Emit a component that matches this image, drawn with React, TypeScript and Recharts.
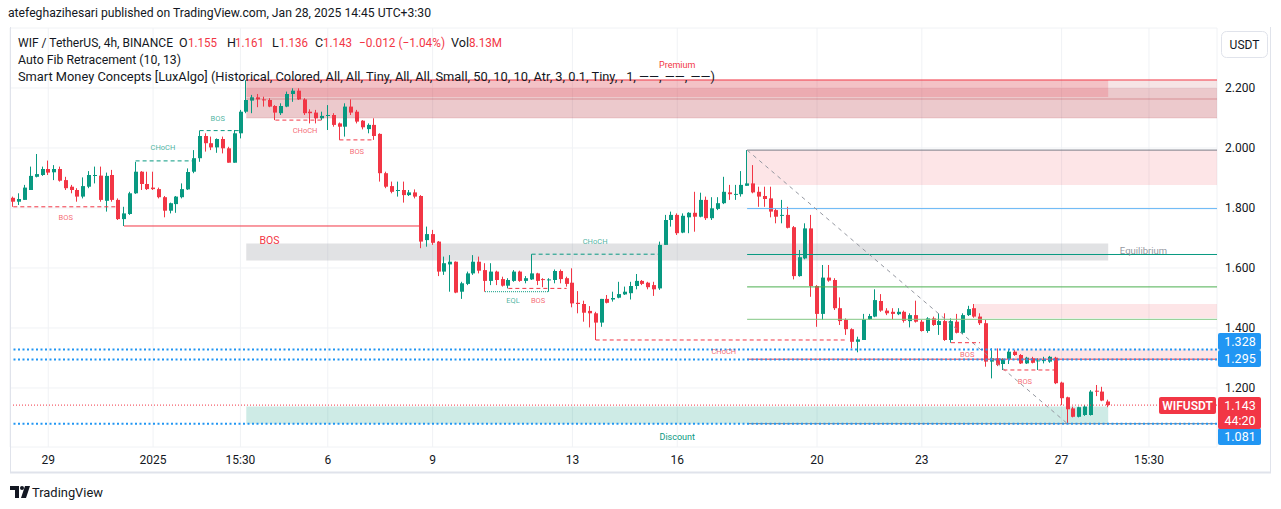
import React from 'react';
import {
  ComposedChart,
  Bar,
  XAxis,
  YAxis,
  CartesianGrid,
  ReferenceArea,
  ReferenceLine,
  ReferenceDot,
} from 'recharts';

const GREEN = '#089981';
const RED = '#f23645';
const BLUE = '#2196f3';
const TEXT = '#131722';
const FONT = 'Roboto, "Noto Sans", "DejaVu Sans", sans-serif';

// ---------- DATA (4h candles, WIF/USDT) ----------
const OPEN = [
  1.834, 1.821, 1.827, 1.86, 1.904, 1.91, 1.93, 1.919, 1.93, 1.893,
  1.871, 1.86, 1.838, 1.871, 1.908, 1.908, 1.824, 1.91, 1.827, 1.763,
  1.78, 1.849, 1.921, 1.88, 1.868, 1.863, 1.836, 1.791, 1.813, 1.836,
  1.862, 1.921, 1.966, 2.04, 2.016, 2.002, 2.03, 1.999, 1.951, 2.049,
  2.121, 2.158, 2.169, 2.162, 2.16, 2.14, 2.116, 2.138, 2.18, 2.191,
  2.162, 2.121, 2.118, 2.099, 2.108, 2.11, 2.082, 2.071, 2.138, 2.121,
  2.091, 2.063, 2.077, 2.047, 1.916, 1.873, 1.858, 1.86, 1.843, 1.852,
  1.84, 1.693, 1.713, 1.688, 1.588, 1.612, 1.621, 1.521, 1.547, 1.582,
  1.621, 1.593, 1.557, 1.588, 1.563, 1.541, 1.557, 1.588, 1.557, 1.562,
  1.582, 1.563, 1.559, 1.56, 1.59, 1.566, 1.551, 1.484, 1.48, 1.457,
  1.449, 1.418, 1.497, 1.495, 1.501, 1.512, 1.516, 1.54, 1.557, 1.551,
  1.543, 1.532, 1.677, 1.76, 1.777, 1.718, 1.769, 1.784, 1.771, 1.827,
  1.766, 1.797, 1.816, 1.852, 1.846, 1.846, 1.874, 1.882, 1.854, 1.84,
  1.832, 1.793, 1.775, 1.777, 1.736, 1.573, 1.632, 1.732, 1.54, 1.447,
  1.568, 1.56, 1.466, 1.427, 1.396, 1.354, 1.36, 1.429, 1.438, 1.49,
  1.458, 1.454, 1.446, 1.454, 1.423, 1.443, 1.421, 1.39, 1.432, 1.41,
  1.423, 1.36, 1.421, 1.384, 1.443, 1.466, 1.438, 1.416, 1.288, 1.299,
  1.28, 1.297, 1.321, 1.31, 1.282, 1.299, 1.29, 1.29, 1.288, 1.301,
  1.218, 1.169, 1.132, 1.104, 1.11, 1.11, 1.191, 1.188, 1.155,
];
const HIGH = [
  1.838, 1.849, 1.877, 1.938, 1.98, 1.938, 1.958, 1.943, 1.938, 1.904,
  1.877, 1.866, 1.902, 1.923, 1.938, 1.938, 1.918, 1.927, 1.832, 1.804,
  1.854, 1.954, 1.923, 1.921, 1.921, 1.868, 1.84, 1.818, 1.84, 1.882,
  1.932, 1.993, 2.058, 2.049, 2.038, 2.032, 2.038, 2.004, 2.06, 2.127,
  2.226, 2.177, 2.18, 2.171, 2.166, 2.143, 2.149, 2.188, 2.199, 2.199,
  2.166, 2.129, 2.127, 2.121, 2.143, 2.116, 2.085, 2.149, 2.162, 2.127,
  2.093, 2.082, 2.099, 2.049, 1.921, 1.888, 1.888, 1.888, 1.86, 1.862,
  1.843, 1.738, 1.727, 1.69, 1.638, 1.643, 1.622, 1.554, 1.588, 1.643,
  1.638, 1.616, 1.616, 1.591, 1.571, 1.566, 1.593, 1.591, 1.573, 1.646,
  1.584, 1.566, 1.566, 1.595, 1.595, 1.571, 1.599, 1.523, 1.491, 1.473,
  1.454, 1.497, 1.51, 1.521, 1.554, 1.538, 1.554, 1.58, 1.56, 1.554,
  1.554, 1.688, 1.777, 1.788, 1.782, 1.782, 1.786, 1.854, 1.851, 1.838,
  1.836, 1.836, 1.904, 1.877, 1.877, 1.923, 1.993, 1.943, 1.871, 1.871,
  1.871, 1.799, 1.827, 1.804, 1.74, 1.66, 1.749, 1.777, 1.543, 1.61,
  1.61, 1.566, 1.502, 1.432, 1.399, 1.371, 1.447, 1.447, 1.529, 1.513,
  1.466, 1.466, 1.466, 1.458, 1.449, 1.491, 1.427, 1.436, 1.438, 1.449,
  1.449, 1.432, 1.447, 1.449, 1.474, 1.48, 1.449, 1.427, 1.332, 1.332,
  1.299, 1.327, 1.327, 1.313, 1.304, 1.304, 1.299, 1.304, 1.307, 1.304,
  1.221, 1.171, 1.138, 1.138, 1.143, 1.193, 1.21, 1.204, 1.161,
];
const LOW = [
  1.804, 1.81, 1.827, 1.86, 1.902, 1.907, 1.91, 1.893, 1.888, 1.86,
  1.849, 1.821, 1.832, 1.866, 1.882, 1.821, 1.788, 1.821, 1.76, 1.74,
  1.777, 1.847, 1.86, 1.86, 1.86, 1.832, 1.769, 1.782, 1.784, 1.832,
  1.86, 1.916, 1.954, 1.988, 1.993, 1.984, 1.982, 1.951, 1.951, 2.032,
  2.116, 2.116, 2.136, 2.138, 2.136, 2.093, 2.11, 2.136, 2.154, 2.16,
  2.11, 2.082, 2.082, 2.093, 2.06, 2.071, 2.027, 2.038, 2.11, 2.082,
  2.062, 2.049, 2.027, 1.888, 1.866, 1.849, 1.838, 1.818, 1.84, 1.832,
  1.666, 1.671, 1.677, 1.573, 1.577, 1.521, 1.516, 1.497, 1.543, 1.577,
  1.582, 1.521, 1.543, 1.543, 1.538, 1.532, 1.554, 1.554, 1.549, 1.56,
  1.543, 1.536, 1.521, 1.549, 1.549, 1.538, 1.469, 1.449, 1.421, 1.402,
  1.36, 1.404, 1.482, 1.488, 1.499, 1.51, 1.495, 1.529, 1.543, 1.529,
  1.507, 1.527, 1.677, 1.738, 1.71, 1.716, 1.716, 1.721, 1.769, 1.76,
  1.76, 1.793, 1.813, 1.827, 1.827, 1.838, 1.874, 1.849, 1.804, 1.804,
  1.769, 1.749, 1.749, 1.732, 1.562, 1.571, 1.629, 1.504, 1.404, 1.427,
  1.554, 1.46, 1.41, 1.377, 1.332, 1.319, 1.36, 1.427, 1.436, 1.454,
  1.443, 1.429, 1.443, 1.418, 1.402, 1.418, 1.388, 1.384, 1.407, 1.377,
  1.357, 1.351, 1.382, 1.38, 1.44, 1.434, 1.41, 1.271, 1.232, 1.273,
  1.26, 1.28, 1.307, 1.28, 1.28, 1.282, 1.26, 1.282, 1.284, 1.213,
  1.143, 1.081, 1.102, 1.102, 1.107, 1.108, 1.173, 1.156, 1.136,
];
const CLOSE = [
  1.821, 1.83, 1.868, 1.907, 1.913, 1.93, 1.918, 1.93, 1.891, 1.866,
  1.86, 1.838, 1.873, 1.91, 1.91, 1.827, 1.907, 1.827, 1.763, 1.782,
  1.849, 1.921, 1.88, 1.863, 1.863, 1.836, 1.791, 1.816, 1.838, 1.863,
  1.92, 1.966, 2.04, 2.016, 2.002, 2.03, 1.999, 1.951, 2.049, 2.121,
  2.16, 2.169, 2.162, 2.16, 2.138, 2.118, 2.14, 2.18, 2.191, 2.162,
  2.116, 2.116, 2.099, 2.107, 2.11, 2.077, 2.071, 2.138, 2.118, 2.088,
  2.069, 2.077, 2.04, 1.916, 1.871, 1.854, 1.86, 1.843, 1.852, 1.838,
  1.688, 1.713, 1.684, 1.588, 1.616, 1.621, 1.518, 1.549, 1.582, 1.621,
  1.591, 1.557, 1.588, 1.56, 1.541, 1.56, 1.588, 1.557, 1.566, 1.582,
  1.557, 1.56, 1.562, 1.59, 1.563, 1.547, 1.482, 1.48, 1.451, 1.449,
  1.418, 1.497, 1.484, 1.5, 1.513, 1.521, 1.54, 1.557, 1.547, 1.536,
  1.529, 1.677, 1.76, 1.777, 1.716, 1.774, 1.784, 1.771, 1.827, 1.766,
  1.799, 1.816, 1.854, 1.846, 1.847, 1.877, 1.882, 1.852, 1.838, 1.83,
  1.788, 1.771, 1.777, 1.734, 1.573, 1.636, 1.732, 1.54, 1.447, 1.568,
  1.558, 1.466, 1.423, 1.396, 1.354, 1.362, 1.429, 1.44, 1.493, 1.458,
  1.449, 1.447, 1.454, 1.424, 1.443, 1.421, 1.39, 1.432, 1.41, 1.423,
  1.36, 1.423, 1.384, 1.443, 1.463, 1.438, 1.416, 1.288, 1.299, 1.277,
  1.297, 1.321, 1.31, 1.282, 1.301, 1.284, 1.292, 1.293, 1.304, 1.216,
  1.166, 1.129, 1.104, 1.136, 1.138, 1.188, 1.188, 1.158, 1.143,
];

// time axis (candle index -> label)
const TICK_IDX = [6, 24, 39, 54, 72, 96, 114, 138, 156, 180, 195];
const TICK_LABELS = ['29', '2025', '15:30', '6', '9', '13', '16', '20', '23', '27', '15:30'];
const PRICE_TICKS = [1.2, 1.4, 1.6, 1.8, 2.0, 2.2];

// Auto Fib retracement
const FIB_FROM = 126;
const FIB_TO_LOW = 181;
const FIB_PRICES = [1.993, 1.798, 1.645, 1.537, 1.429, 1.296, 1.081];
const FIB_COLORS = ['#787b86', '#64b5f6', '#089981', '#4caf50', '#81c784', '#f23645', '#787b86'];

// Smart Money Concepts structures: [fromIdx, toIdx, price, color, style]
const STRUCT_LINES: [number, number, number, string, string][] = [
  [0, 18, 1.804, 'red', 'dash'],
  [19, 70, 1.74, 'red', 'solid'],
  [21, 31, 1.957, 'green', 'dash'],
  [32, 39, 2.058, 'green', 'dash'],
  [45, 53, 2.093, 'red', 'dash'],
  [56, 62, 2.027, 'red', 'dash'],
  [89, 111, 1.646, 'green', 'dash'],
  [81, 92, 1.521, 'green', 'dot'],
  [85, 95, 1.532, 'red', 'dash'],
  [100, 143, 1.36, 'red', 'dash'],
  [161, 166, 1.351, 'red', 'dash'],
  [170, 179, 1.26, 'red', 'dash'],
];
// labels: [text, idx, price, color, size]
const STRUCT_LABELS: [string, number, number, string, number][] = [
  ['BOS', 9, 1.767, 'red', 7.5],
  ['BOS', 44, 1.69, 'red', 10.5],
  ['CHoCH', 25.7, 2.0, 'green', 7.5],
  ['BOS', 35.1, 2.097, 'green', 7.5],
  ['CHoCH', 50.1, 2.057, 'red', 7.5],
  ['BOS', 59, 1.987, 'red', 7.5],
  ['CHoCH', 99.9, 1.687, 'green', 7.5],
  ['EQL', 85.8, 1.49, 'green', 7.5],
  ['BOS', 90.1, 1.493, 'red', 7.5],
  ['CHoCH', 122, 1.32, 'red', 7.5],
  ['BOS', 163.8, 1.31, 'red', 7.5],
  ['BOS', 173.7, 1.223, 'red', 7.5],
];

// zones: premium / equilibrium / discount and order blocks
const ZONE_START = 40;
const LAST_IDX = 188;
const TOP_PRICE = 2.2267;
const PREMIUM_BOTTOM = 2.17;
const OB_TOP_INNER = 2.2;
const OB_BOTTOM = 2.1;
const OB_MID_LINE = 2.1633;
const EQ_RANGE = [1.625, 1.682];
const DISCOUNT_RANGE = [1.081, 1.138];
const LAST_PRICE = 1.143;

// ---------- LAYOUT CONSTANTS ----------
const XMIN = -0.567;
const XMAX = 206.68;
const YMIN = 1.00333;
const YMAX = 2.4;

const data = OPEN.map((o, i) => ({
  i,
  o,
  h: HIGH[i],
  l: LOW[i],
  c: CLOSE[i],
  range: [LOW[i], HIGH[i]],
}));

const labelByIdx: Record<number, string> = {};
TICK_IDX.forEach((v, k) => (labelByIdx[v] = TICK_LABELS[k]));

function Candle(props: any) {
  const { x, y, width, height, payload } = props;
  if (!payload || x == null || y == null) return null;
  const top = Math.min(y, y + height);
  const bottom = Math.max(y, y + height);
  const { o, h, l, c } = payload;
  const span = h - l;
  const py = (v: number) => (span > 0 ? top + ((h - v) / span) * (bottom - top) : top);
  const color = c >= o ? GREEN : RED;
  const center = x + width / 2;
  const x0 = Math.round(center - 2);
  const bTop = py(Math.max(o, c));
  const bBot = py(Math.min(o, c));
  return (
    <g>
      <line x1={x0 + 1.5} x2={x0 + 1.5} y1={top} y2={bottom} stroke={color} strokeWidth={1} />
      <rect x={x0} y={bTop} width={4} height={Math.max(1, bBot - bTop)} fill={color} />
    </g>
  );
}

const colorOf = (k: string) => (k === 'red' ? RED : GREEN);

const textShape = (txt: string, color: string, size: number, anchor: string = 'middle', opacity = 1) =>
  (p: any) => (
    <text
      x={p.cx}
      y={p.cy}
      fill={color}
      fillOpacity={opacity}
      fontSize={size}
      fontFamily={FONT}
      textAnchor={anchor as any}
      dominantBaseline="central"
    >
      {txt}
    </text>
  );

const priceTag = (lines: string[], bg: string, dy = 0) => (p: any) => {
  const h = lines.length === 1 ? 17 : 32;
  const y0 = Math.round(p.cy - 8.5 + dy);
  return (
    <g>
      <rect x={p.cx + 1} y={y0} width={43} height={h} rx={2} fill={bg} />
      {lines.map((t, k) => (
        <text
          key={k}
          x={p.cx + 23}
          y={y0 + 12.5 + k * 15}
          textAnchor="middle"
          fill="#ffffff"
          fontSize={12.5}
          fontFamily={FONT}
        >
          {t}
        </text>
      ))}
    </g>
  );
};

const symbolTag = (p: any) => {
  const y0 = Math.round(p.cy - 8.5);
  return (
    <g>
      <rect x={p.cx - 58} y={y0} width={57} height={17} rx={2} fill={RED} />
      <text x={p.cx - 29.5} y={y0 + 12.5} textAnchor="middle" fill="#fff" fontSize={12} fontWeight={600} fontFamily={FONT}>
        WIFUSDT
      </text>
    </g>
  );
};

export default function App() {
  return (
    <div
      style={{
        position: 'absolute',
        left: 0,
        top: 0,
        width: 1281,
        height: 509,
        background: '#ffffff',
        overflow: 'hidden',
        fontFamily: FONT,
      }}
    >
      <ComposedChart
        width={1281}
        height={509}
        data={data}
        margin={{ top: 28, right: 0, bottom: 36, left: 10 }}
      >
        <CartesianGrid stroke="#f0f2f5" />
        <XAxis
          dataKey="i"
          type="number"
          domain={[XMIN, XMAX]}
          ticks={TICK_IDX}
          interval={0}
          tickFormatter={(v: number) => labelByIdx[v] ?? ''}
          axisLine={false}
          tickLine={false}
          height={26}
          allowDataOverflow
          tick={{ fill: TEXT, fontSize: 12, fontFamily: FONT }}
        />
        <YAxis
          orientation="right"
          domain={[YMIN, YMAX]}
          ticks={PRICE_TICKS}
          tickFormatter={(v: number) => v.toFixed(3)}
          axisLine={false}
          tickLine={false}
          width={64}
          allowDataOverflow
          tick={{ fill: TEXT, fontSize: 12, fontFamily: FONT }}
        />

        {/* order blocks & premium zone */}
        <ReferenceArea x1={ZONE_START} x2={XMAX} y1={OB_TOP_INNER} y2={TOP_PRICE} fill="#b22833" fillOpacity={0.12} stroke="none" ifOverflow="visible" />
        <ReferenceArea x1={ZONE_START} x2={XMAX} y1={OB_BOTTOM} y2={OB_TOP_INNER} fill="#b22833" fillOpacity={0.25} stroke="none" ifOverflow="visible" />
        <ReferenceArea x1={ZONE_START} x2={LAST_IDX} y1={PREMIUM_BOTTOM} y2={TOP_PRICE} fill={RED} fillOpacity={0.2} stroke="none" ifOverflow="visible" />
        <ReferenceArea x1={ZONE_START} x2={LAST_IDX} y1={EQ_RANGE[0]} y2={EQ_RANGE[1]} fill="#878b94" fillOpacity={0.25} stroke="none" ifOverflow="visible" />
        <ReferenceArea x1={ZONE_START} x2={LAST_IDX} y1={DISCOUNT_RANGE[0]} y2={DISCOUNT_RANGE[1]} fill={GREEN} fillOpacity={0.2} stroke="none" ifOverflow="visible" />
        <ReferenceArea x1={FIB_FROM} x2={XMAX} y1={1.877} y2={1.993} fill={RED} fillOpacity={0.13} stroke="none" ifOverflow="visible" />
        <ReferenceArea x1={165} x2={XMAX} y1={1.433} y2={1.48} fill={RED} fillOpacity={0.13} stroke="none" ifOverflow="visible" />
        <ReferenceArea x1={172} x2={XMAX} y1={1.295} y2={1.328} fill={RED} fillOpacity={0.13} stroke="none" ifOverflow="visible" />

        <ReferenceLine segment={[{ x: ZONE_START, y: TOP_PRICE }, { x: XMAX, y: TOP_PRICE }]} stroke={RED} strokeWidth={1} ifOverflow="visible" />
        <ReferenceLine segment={[{ x: ZONE_START, y: OB_MID_LINE }, { x: XMAX, y: OB_MID_LINE }]} stroke="#b22833" strokeOpacity={0.35} strokeWidth={1} ifOverflow="visible" />
        <ReferenceLine segment={[{ x: ZONE_START, y: OB_BOTTOM }, { x: XMAX, y: OB_BOTTOM }]} stroke="#b22833" strokeOpacity={0.15} strokeWidth={1} ifOverflow="visible" />

        {/* fib levels */}
        {FIB_PRICES.map((p, k) => (
          <ReferenceLine
            key={'fib' + k}
            segment={[{ x: FIB_FROM, y: p }, { x: XMAX, y: p }]}
            stroke={FIB_COLORS[k]}
            strokeWidth={1}
            ifOverflow="visible"
          />
        ))}
        <ReferenceLine
          segment={[{ x: FIB_FROM, y: FIB_PRICES[0] }, { x: FIB_TO_LOW, y: FIB_PRICES[6] }]}
          stroke="#9598a1"
          strokeDasharray="4 4"
          strokeWidth={1}
          ifOverflow="visible"
        />

        {/* horizontal dotted lines */}
        <ReferenceLine y={1.328} stroke={BLUE} strokeWidth={2} strokeDasharray="2 2.5" ifOverflow="visible" />
        <ReferenceLine y={1.295} stroke={BLUE} strokeWidth={2} strokeDasharray="2 2.5" ifOverflow="visible" />
        <ReferenceLine y={1.081} stroke={BLUE} strokeWidth={2} strokeDasharray="2 2.5" ifOverflow="visible" />
        <ReferenceLine y={LAST_PRICE} stroke={RED} strokeWidth={1} strokeDasharray="1 2" ifOverflow="visible" />

        {/* structure lines */}
        {STRUCT_LINES.map(([a, b, p, col, st], k) => (
          <ReferenceLine
            key={'st' + k}
            segment={[{ x: a, y: p }, { x: b, y: p }]}
            stroke={colorOf(col)}
            strokeWidth={1}
            strokeDasharray={st === 'dash' ? '4 3' : st === 'dot' ? '1 1' : undefined}
            ifOverflow="visible"
          />
        ))}

        <Bar
          dataKey="range"
          barSize={4}
          isAnimationActive={false}
          shape={(p: any) => <Candle {...p} />}
        />

        {STRUCT_LABELS.map(([t, idx, p, col, size], k) => (
          <ReferenceDot
            key={'lb' + k}
            x={idx}
            y={p}
            r={0}
            ifOverflow="visible"
            shape={textShape(t, colorOf(col), size, 'middle', size > 8 ? 1 : 0.75)}
          />
        ))}
        <ReferenceDot x={114} y={2.2767} r={0} ifOverflow="visible" shape={textShape('Premium', RED, 9)} />
        <ReferenceDot x={114} y={1.0367} r={0} ifOverflow="visible" shape={textShape('Discount', GREEN, 9)} />
        <ReferenceDot x={190} y={1.6567} r={0} ifOverflow="visible" shape={textShape('Equilibrium', '#9598a1', 9.5, 'start')} />

        {/* price axis tags */}
        <ReferenceDot x={XMAX} y={1.328} r={0} ifOverflow="visible" shape={priceTag(['1.328'], BLUE, -8)} />
        <ReferenceDot x={XMAX} y={1.295} r={0} ifOverflow="visible" shape={priceTag(['1.295'], BLUE, -1)} />
        <ReferenceDot x={XMAX} y={1.081} r={0} ifOverflow="visible" shape={priceTag(['1.081'], BLUE, 13)} />
        <ReferenceDot x={XMAX} y={LAST_PRICE} r={0} ifOverflow="visible" shape={priceTag(['1.143', '44:20'], RED)} />
        <ReferenceDot x={XMAX} y={LAST_PRICE} r={0} ifOverflow="visible" shape={symbolTag} />
      </ComposedChart>

      <svg
        width={1281}
        height={509}
        style={{ position: 'absolute', left: 0, top: 0, pointerEvents: 'none' }}
        fontFamily={FONT}
      >
        {/* frame */}
        <line x1={10.5} x2={10.5} y1={27} y2={473} stroke="#e0e3eb" />
        <line x1={1270.5} x2={1270.5} y1={27} y2={473} stroke="#e0e3eb" />
        <line x1={10} x2={1271} y1={472.5} y2={472.5} stroke="#e0e3eb" strokeWidth={2} />

        <text x={8} y={16.5} fontSize={12.5} fill={TEXT} textLength={423} lengthAdjust="spacingAndGlyphs">
          atefeghazihesari published on TradingView.com, Jan 28, 2025 14:45 UTC+3:30
        </text>

        <text x={18} y={46.5} fontSize={12.5} fill={TEXT} textLength={155} lengthAdjust="spacingAndGlyphs">
          WIF / TetherUS, 4h, BINANCE
        </text>
        <text x={179} y={46.5} fontSize={12.5} fill={TEXT}>O</text>
        <text x={188} y={46.5} fontSize={12.5} fill={RED} textLength={29} lengthAdjust="spacingAndGlyphs">1.155</text>
        <text x={227} y={46.5} fontSize={12.5} fill={TEXT}>H</text>
        <text x={235} y={46.5} fontSize={12.5} fill={RED} textLength={29} lengthAdjust="spacingAndGlyphs">1.161</text>
        <text x={272} y={46.5} fontSize={12.5} fill={TEXT}>L</text>
        <text x={279} y={46.5} fontSize={12.5} fill={RED} textLength={29} lengthAdjust="spacingAndGlyphs">1.136</text>
        <text x={315} y={46.5} fontSize={12.5} fill={TEXT}>C</text>
        <text x={323} y={46.5} fontSize={12.5} fill={RED} textLength={29} lengthAdjust="spacingAndGlyphs">1.143</text>
        <text x={359} y={46.5} fontSize={12.5} fill={RED} textLength={86} lengthAdjust="spacingAndGlyphs">−0.012 (−1.04%)</text>
        <text x={451} y={46.5} fontSize={12.5} fill={TEXT} textLength={18} lengthAdjust="spacingAndGlyphs">Vol</text>
        <text x={469} y={46.5} fontSize={12.5} fill={RED} textLength={33} lengthAdjust="spacingAndGlyphs">8.13M</text>

        <text x={18} y={63.5} fontSize={12.5} fill={TEXT} textLength={163} lengthAdjust="spacingAndGlyphs">
          Auto Fib Retracement (10, 13)
        </text>
        <text x={18} y={80.5} fontSize={12.5} fill={TEXT} textLength={697} lengthAdjust="spacingAndGlyphs">
          Smart Money Concepts [LuxAlgo] (Historical, Colored, All, All, Tiny, All, All, Small, 50, 10, 10, Atr, 3, 0.1, Tiny, , 1, ——, ——, ——)
        </text>

        {/* currency button */}
        <rect x={1221.5} y={31.5} width={46} height={26} rx={5} fill="#ffffff" stroke="#e0e3eb" />
        <text x={1244.5} y={49} fontSize={12} fill={TEXT} textAnchor="middle">USDT</text>

        {/* TradingView logo */}
        <g fill={TEXT}>
          <path d="M10 486 H19 V498 H15 V490 H10 Z" />
          <circle cx={22} cy={488} r={2} />
          <path d="M25 486 H30 L26 498 H21 Z" />
        </g>
        <text x={32} y={497} fontSize={13} fill={TEXT} textLength={71} lengthAdjust="spacingAndGlyphs">TradingView</text>
      </svg>
    </div>
  );
}
